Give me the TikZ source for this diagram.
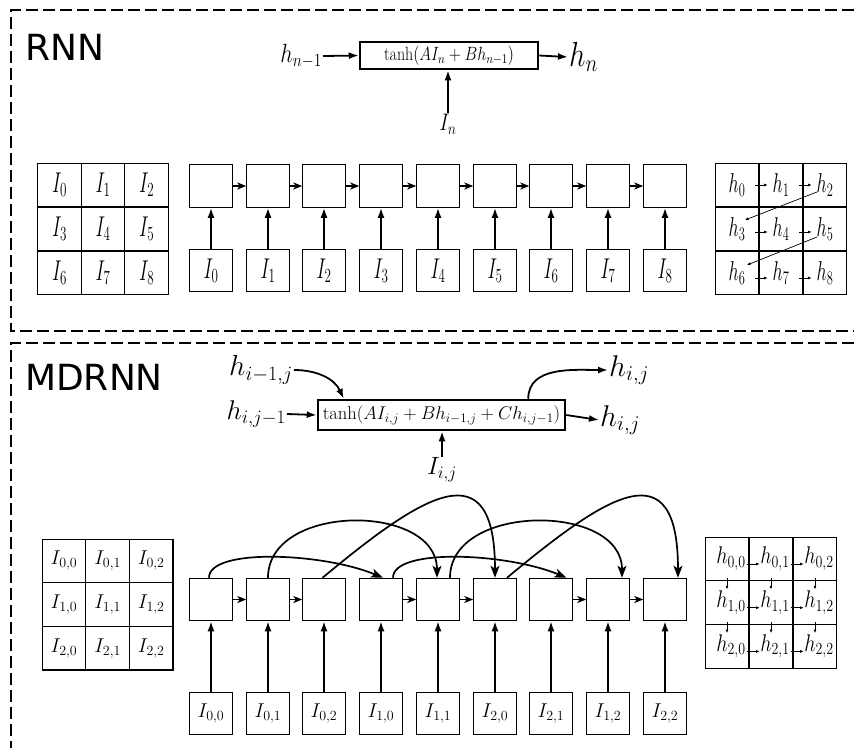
\RequirePackage{fix-cm}
\documentclass[tikz,border=0pt]{standalone}
\usepackage{graphicx}
\usepackage{fontspec}
\setsansfont{DejaVu Sans}
\usetikzlibrary{arrows.meta,calc}
\newcommand{\fsz}[1]{\fontsize{#1}{#1}\selectfont}
\newcommand{\rl}[1]{\scalebox{0.85}[1.3]{#1}}
\newcommand{\rt}[1]{\scalebox{1}[1.2]{#1}}
\begin{document}
\begin{tikzpicture}[x=1pt,y=-1pt,
  frame/.style={line width=2.5pt, dash pattern=on 12pt off 5pt},
  cell/.style={draw, line width=1.1pt, minimum width=43.6pt, minimum height=43.6pt, inner sep=0pt},
  chbox/.style={draw, line width=1pt, minimum width=42.5pt, minimum height=42.5pt, inner sep=0pt},
  fbox/.style={draw, line width=2.5pt, inner sep=0pt},
  harr/.style={line width=1.5pt, -{Stealth[length=9pt,width=7pt,inset=2.5pt]}},
  varr/.style={line width=1.8pt, -{Latex[length=10pt,width=7pt]}},
  arc/.style={line width=1.7pt, -{Stealth[length=12pt,width=9pt,inset=3pt]}},
  small/.style={line width=0.7pt, -{Latex[length=3.5pt,width=3pt]}},
  ttl/.style={font=\sffamily\fsz{36}, inner sep=0pt},
]
\useasboundingbox (0,0) rectangle (854,748);

% frames
\draw[frame] (854,10) -- (11,10) -- (11,331) -- (854,331);
\draw[frame] (854,343) -- (11,343) -- (11,748);

% titles
\node[ttl, anchor=base west] (lblR) at (25,60) {RNN};
\node[ttl, anchor=base west] (lblM) at (25,390) {MDRNN};

% ---------- RNN formula ----------
\node[fbox, minimum width=178pt, minimum height=27pt, font=\fsz{16}] (fR) at (449,55.5) {\rt{$\tanh(AI_n+Bh_{n-1})$}};
\node[anchor=east, font=\fsz{22}, inner sep=1pt] (hin) at (323,56) {\rt{$h_{n-1}$}};
\node[anchor=west, font=\fsz{29}, inner sep=1pt] (hout) at (568,57) {\rt{$h_n$}};
\node[font=\fsz{20}, inner sep=1pt] (In) at (448,124) {\rt{$I_n$}};
\draw[varr] (hin.east) -- (fR.west);
\draw[varr] (fR.east) -- (hout.west);
\draw[varr] (In.north) -- (In.north |- fR.south);

% RNN left grid
\foreach \r in {0,1,2} \foreach \c in {0,1,2} {
  \pgfmathtruncatemacro\k{3*\r+\c}
  \node[cell, font=\fsz{22}] (gR\r\c) at ({59.5+43.6*\c},{185+44*\r}) {\rl{$I_{\k}$}};
}

% RNN chain
\foreach \k/\x in {0/211,1/268,2/324,3/381,4/438,5/495,6/551,7/608,8/665} {
  \node[chbox] (tR\k) at (\x,186) {};
  \node[chbox, font=\fsz{22}] (bR\k) at (\x,270.5) {\rl{$I_{\k}$}};
  \draw[varr] (bR\k.north) -- (tR\k.south);
}
\foreach \k [count=\n from 1] in {0,...,7} \draw[harr] (tR\k.east) -- (tR\n.west);

% RNN right grid
\foreach \r in {0,1,2} \foreach \c in {0,1,2} {
  \pgfmathtruncatemacro\k{3*\r+\c}
  \node[cell, font=\fsz{21}] (hR\r\c) at ({737+44*\c},{185+44*\r}) {\rl{$h_{\k}$}};
}
\foreach \r/\dy in {0/0,1/3,2/5} \foreach \c [count=\n from 1] in {0,1}
  \draw[small] ($(hR\r\c.east)+(-4,\dy)$) -- ($(hR\r\n.west)+(9,\dy)$);
\draw[small] ($(hR02.center)+(-8,7)$) -- ($(hR10.center)+(8,-9)$);
\draw[small] ($(hR12.center)+(-8,8)$) -- ($(hR20.center)+(10,-8)$);

% ---------- MDRNN formula ----------
\node[fbox, minimum width=247pt, minimum height=30pt, font=\fsz{18.5}] (fM) at (441.5,415) {$\tanh(AI_{i,j}+Bh_{i-1,j}+Ch_{i,j-1})$};
\node[anchor=east, font=\fsz{27}, inner sep=1pt] (hL) at (287,414) {$h_{i,j-1}$};
\node[anchor=east, font=\fsz{29}, inner sep=1pt] (hU) at (294,370) {$h_{i-1,j}$};
\node[anchor=west, font=\fsz{30}, inner sep=1pt] (hRt) at (599,420) {$h_{i,j}$};
\node[anchor=west, font=\fsz{30}, inner sep=1pt] (hTp) at (608,370) {$h_{i,j}$};
\node[font=\fsz{25}, inner sep=1pt] (Iij) at (442,470) {$I_{i,j}$};
\draw[varr] (hL.east) -- (fM.west);
\draw[varr] (fM.east) -- (hRt.west);
\draw[varr] (Iij.north) -- (Iij.north |- fM.south);
\draw[varr] (hU.east) to[out=0,in=115] ($(fM.north west)+(27,0)$);
\draw[varr] ($(fM.north east)+(-38,0)$) to[out=90,in=180] (hTp.west);

% MDRNN left grid
\foreach \r in {0,1,2} \foreach \c in {0,1,2} {
  \node[cell, font=\fsz{20}] (gM\r\c) at ({64+43.6*\c},{561+43.6*\r}) {$I_{\r,\c}$};
}

% MDRNN chain
\foreach \k/\a/\b/\x in {0/0/0/211,1/0/1/268,2/0/2/324,3/1/0/381,4/1/1/438,5/2/0/495,6/2/1/551,7/1/2/608,8/2/2/665} {
  \node[chbox] (tM\k) at (\x,599.5) {};
  \node[chbox, font=\fsz{20}] (bM\k) at (\x,713.5) {$I_{\a,\b}$};
  \draw[varr] (bM\k.north) -- (tM\k.south);
}
\foreach \a/\b in {0/1,1/2,3/4,4/5,6/7,7/8} \draw[harr] (tM\a.east) -- (tM\b.west);

% arcs
\draw[arc] ($(tM0.north)+(-2,0)$) .. controls +(0,-30) and +(-60,-25) .. ($(tM3.north)+(2,0)$);
\draw[arc] (tM1.north) .. controls +(0,-75) and +(0,-75) .. ($(tM4.north)+(-1,0)$);
\draw[arc] ($(tM2.north)+(-1.5,0)$) .. controls +(100,-83) and +(0,-130) .. (tM5.north);
\draw[arc] ($(tM3.north)+(12,0)$) .. controls +(0,-30) and +(-60,-25) .. ($(tM6.north)+(15.5,0)$);
\draw[arc] ($(tM4.north)+(12,0)$) .. controls +(0,-75) and +(0,-75) .. ($(tM7.north)+(14,0)$);
\draw[arc] ($(tM5.north)+(12,0)$) .. controls +(100,-83) and +(0,-130) .. ($(tM8.north)+(13,0)$);

% MDRNN right grid
\foreach \r in {0,1,2} \foreach \c in {0,1,2} {
  \node[cell, font=\fsz{21}] (hM\r\c) at ({727+44*\c},{559+43.7*\r}) {\hspace*{8pt}\scalebox{0.95}[1.15]{$h_{\r,\c}$}};
}
\foreach \r in {0,1,2} \foreach \c [count=\n from 1] in {0,1}
  \draw[small] ($(hM\r\c.east)+(-2,5)$) -- ($(hM\r\n.west)+(11,5)$);
\foreach \r in {1,2} \foreach \c in {0,1,2}
  \draw[small] ($(hM\r\c.north)+(0,-2)$) -- ($(hM\r\c.north)+(0,9)$);
\end{tikzpicture}
\end{document}
